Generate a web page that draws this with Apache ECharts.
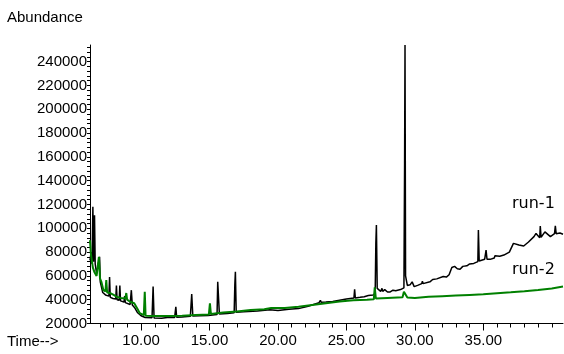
<!DOCTYPE html>
<html>
<head>
<meta charset="utf-8">
<script src="https://cdn.jsdelivr.net/npm/echarts@6/dist/echarts.min.js"></script>
<style>
  html, body { margin: 0; padding: 0; background: #fff; }
  #main { width: 564px; height: 354px; }
</style>
</head>
<body>
<div id="main"></div>
<script>
// time (min), abundance
var run1 = [
  [6.27, 73000], [6.35, 80000], [6.42, 70000], [6.48, 118000], [6.53, 72000],
  [6.6, 111000], [6.65, 70000], [6.75, 62000], [6.97, 76000], [7.02, 55000],
  [7.1, 51000], [7.2, 46000], [7.4, 44000], [7.65, 43000], [7.7, 59000],
  [7.75, 42000], [7.95, 41000], [8.15, 40500], [8.2, 52000], [8.25, 40000],
  [8.4, 39500], [8.45, 52000], [8.5, 39000], [8.75, 38000], [8.8, 43000],
  [8.85, 37500], [9.2, 36000], [9.29, 48000], [9.36, 35500], [9.55, 33000],
  [9.75, 29000], [10.0, 26500], [10.3, 25000], [10.8, 24800], [10.88, 51000],
  [10.95, 24600], [11.5, 24500], [12.05, 25200], [12.45, 25000], [12.54, 34000],
  [12.6, 25200], [13.0, 25500], [13.6, 26000], [13.7, 44800], [13.78, 26200],
  [14.3, 26500], [14.9, 26800], [15.55, 27500], [15.6, 55000], [15.66, 54000],
  [15.72, 28000], [16.3, 28500], [16.8, 29000], [16.85, 53000], [16.89, 63500],
  [16.95, 29500], [17.5, 29800], [18.5, 30500], [19.4, 31500], [20.0, 31000],
  [20.8, 32000], [21.5, 32500], [22.2, 34500], [23.0, 37500], [23.1, 39500],
  [23.15, 37800], [23.5, 38000], [24.0, 38500], [24.5, 39500], [25.0, 40500],
  [25.55, 41500], [25.6, 48700], [25.65, 41500], [26.0, 42000], [26.3, 42500],
  [26.6, 43500], [26.95, 44000], [27.1, 45000], [27.15, 87600], [27.19, 102700],
  [27.25, 49500], [27.5, 47000], [27.6, 49500], [27.65, 47000], [27.8, 48500],
  [28.0, 46500], [28.2, 46500], [28.4, 48000], [28.45, 46800], [28.6, 47500],
  [28.95, 48500], [29.2, 50000], [29.25, 155000], [29.28, 254000], [29.32, 60000],
  [29.45, 52000], [29.55, 51000], [29.65, 52500], [29.8, 55000], [29.95, 51000],
  [30.2, 52000], [30.5, 53500], [30.55, 55500], [30.6, 53500], [31.1, 55000],
  [31.3, 57000], [31.35, 55500], [31.6, 57500], [32.07, 59500], [32.3, 59000],
  [32.5, 61000], [32.7, 67000], [32.9, 68000], [33.1, 66000], [33.3, 65500],
  [33.5, 68000], [33.8, 68500], [34.0, 70000], [34.3, 70500], [34.6, 72000],
  [34.64, 98500], [34.7, 72500], [35.1, 74000], [35.2, 81700], [35.27, 74000],
  [35.5, 73900], [35.8, 75000], [35.85, 77000], [35.9, 75500], [36.2, 76500],
  [36.5, 77500], [36.9, 80000], [37.0, 80500], [37.2, 87300], [37.6, 86000],
  [37.95, 85100], [38.3, 88500], [38.7, 93000], [38.85, 95700], [39.12, 92000],
  [39.16, 101900], [39.22, 92500], [39.5, 97000], [39.9, 93000], [40.2, 95500],
  [40.26, 102000], [40.32, 95500], [40.6, 96000], [40.82, 95000]
];

var run2 = [
  [6.27, 90000], [6.33, 79000], [6.48, 67000], [6.6, 63000], [6.75, 60000],
  [6.92, 76000], [7.0, 58000], [7.1, 55000], [7.25, 48000], [7.4, 47000],
  [7.46, 56500], [7.52, 46000], [7.75, 45600], [8.0, 44000], [8.2, 42500],
  [8.5, 41500], [8.85, 41000], [8.92, 45600], [8.98, 40000], [9.2, 38300],
  [9.5, 37000], [9.7, 33000], [9.9, 28800], [10.2, 27000], [10.27, 46700],
  [10.33, 26500], [11.0, 26300], [12.0, 26300], [13.0, 26600], [14.0, 27100],
  [14.95, 27500], [15.03, 37000], [15.1, 28000], [16.0, 29300], [17.0, 30000],
  [18.0, 31300], [19.0, 32000], [19.5, 33000], [20.5, 33000], [21.5, 34000],
  [22.5, 35500], [23.5, 37000], [24.5, 38500], [25.5, 39500], [26.5, 40000],
  [27.0, 40300], [27.07, 50400], [27.15, 41000], [28.0, 41500], [29.1, 42000],
  [29.2, 46700], [29.3, 46500], [29.45, 41800], [30.0, 41500], [31.0, 42500],
  [32.0, 43000], [33.0, 43500], [34.0, 44000], [35.0, 44500], [36.0, 45500],
  [37.0, 46200], [38.0, 47000], [39.0, 48200], [40.0, 49500], [40.82, 51000]
];

var timeLabels = [10, 15, 20, 25, 30, 35];
var abundLabels = [20000, 40000, 60000, 80000, 100000, 120000, 140000,
                   160000, 180000, 200000, 220000, 240000];

var font = "'Liberation Sans', Arial, sans-serif";

var timeTicks = [];
for (var m = 7; m <= 40; m++) timeTicks.push(m);
var abundTicks = [];
for (var a = 20000; a <= 252000; a += 4000) abundTicks.push(a);

var myChart = echarts.init(document.getElementById('main'), null, { renderer: 'canvas' });

var option = {
  animation: false,
  backgroundColor: '#fff',
  grid: { left: 90, right: 1, top: 45, bottom: 30.5 },
  xAxis: [{
    type: 'value',
    min: 6.27,
    max: 40.82,
    axisLine: { lineStyle: { color: '#000', width: 1 } },
    axisTick: { customValues: timeTicks, length: 4, lineStyle: { color: '#000' } },
    axisLabel: {
      customValues: timeLabels,
      color: '#000',
      fontFamily: font,
      fontSize: 15,
      margin: 10,
      formatter: function (v) { return v.toFixed(2); }
    },
    splitLine: { show: false }
  }, {
    // longer ticks under the labelled minutes
    type: 'value',
    position: 'bottom',
    min: 6.27,
    max: 40.82,
    axisLine: { show: false },
    axisTick: { customValues: timeLabels, length: 7, lineStyle: { color: '#000' } },
    axisLabel: { show: false },
    splitLine: { show: false }
  }],
  yAxis: {
    type: 'value',
    min: 20000,
    max: 254000,
    axisLine: { show: true, lineStyle: { color: '#000', width: 1 } },
    axisTick: { show: true, customValues: abundTicks, length: 3, lineStyle: { color: '#000' } },
    axisLabel: {
      customValues: abundLabels,
      color: '#000',
      fontFamily: font,
      fontSize: 15,
      margin: 3,
      formatter: function (v) { return String(v); }
    },
    splitLine: { show: false }
  },
  graphic: [
    { type: 'text', left: 7, top: 10, style: { text: 'Abundance', font: '15px ' + font, fill: '#000' } },
    { type: 'text', left: 7, top: 334, style: { text: 'Time-->', font: '15px ' + font, fill: '#000' } },
    { type: 'text', left: 512, top: 196, style: { text: 'run-1', font: '16px "DejaVu Sans", sans-serif', fill: '#000' } },
    { type: 'text', left: 512, top: 262, style: { text: 'run-2', font: '16px "DejaVu Sans", sans-serif', fill: '#000' } }
  ],
  series: [
    {
      name: 'run-1',
      type: 'line',
      data: run1,
      symbol: 'none',
      lineStyle: { color: '#000', width: 1.5 },
      z: 2
    },
    {
      name: 'run-2',
      type: 'line',
      data: run2,
      symbol: 'none',
      lineStyle: { color: '#008000', width: 2 },
      z: 3
    }
  ]
};

myChart.setOption(option);
</script>
</body>
</html>
